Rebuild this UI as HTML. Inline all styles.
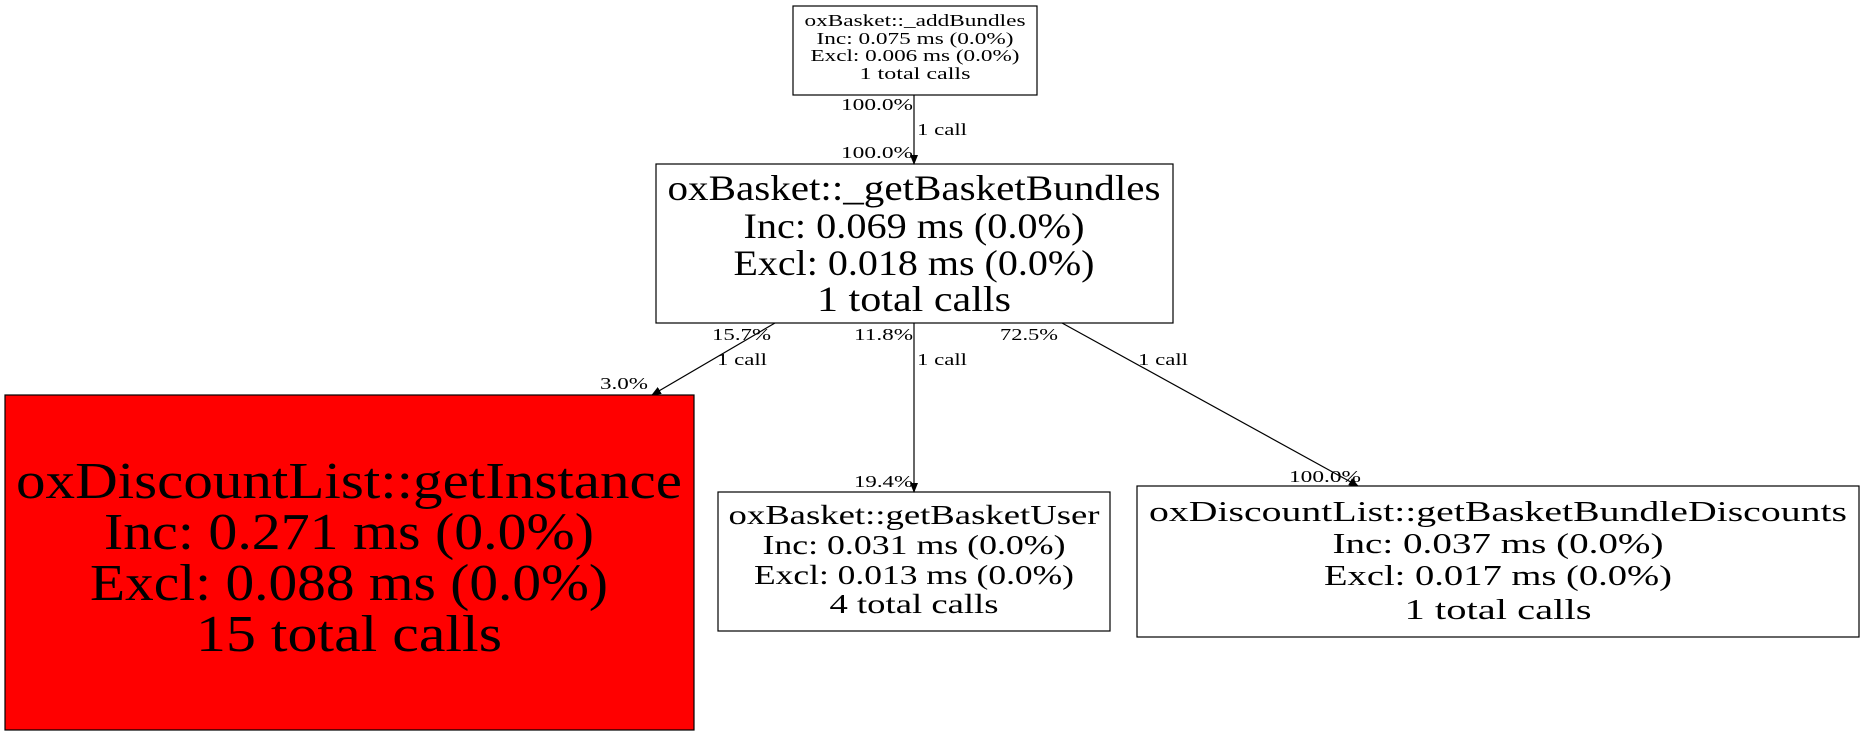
<!DOCTYPE html>
<html><head><meta charset="utf-8"><style>html,body{margin:0;padding:0;background:#fff}svg{display:block}text{font-family:"Liberation Serif",serif;fill:#000}</style></head>
<body>
<svg width="1864" height="736" viewBox="0 0 1864 736" xmlns="http://www.w3.org/2000/svg">
<defs><marker id="a" markerWidth="10" markerHeight="8" refX="9" refY="4" orient="auto" markerUnits="userSpaceOnUse"><path d="M0,0 L10,4 L0,8 z" fill="#000"/></marker></defs>
<g fill="none" stroke="#000" stroke-width="1.2">
<rect x="793" y="6" width="244" height="89" fill="#fff"/>
<rect x="656" y="164" width="517" height="159" fill="#fff"/>
<rect x="5" y="395" width="689" height="335" fill="#f00"/>
<rect x="718" y="492" width="392" height="139" fill="#fff"/>
<rect x="1137" y="486" width="722" height="151" fill="#fff"/>
<line x1="914" y1="95" x2="914" y2="164" marker-end="url(#a)"/>
<line x1="775" y1="323" x2="652" y2="395" marker-end="url(#a)"/>
<line x1="914" y1="323" x2="914" y2="492" marker-end="url(#a)"/>
<line x1="1062" y1="323" x2="1358" y2="486" marker-end="url(#a)"/>
</g>
<g text-anchor="middle">
<g font-size="17"><text x="915" y="26" textLength="221" lengthAdjust="spacingAndGlyphs">oxBasket::_addBundles</text><text x="915" y="44" textLength="197" lengthAdjust="spacingAndGlyphs">Inc: 0.075 ms (0.0%)</text><text x="915" y="61" textLength="209" lengthAdjust="spacingAndGlyphs">Excl: 0.006 ms (0.0%)</text><text x="915" y="79" textLength="111" lengthAdjust="spacingAndGlyphs">1 total calls</text></g>
<g font-size="36"><text x="914" y="200" textLength="493" lengthAdjust="spacingAndGlyphs">oxBasket::_getBasketBundles</text><text x="914" y="238" textLength="341" lengthAdjust="spacingAndGlyphs">Inc: 0.069 ms (0.0%)</text><text x="914" y="275" textLength="361" lengthAdjust="spacingAndGlyphs">Excl: 0.018 ms (0.0%)</text><text x="914" y="311" textLength="194" lengthAdjust="spacingAndGlyphs">1 total calls</text></g>
<g font-size="52"><text x="349" y="498" textLength="666" lengthAdjust="spacingAndGlyphs">oxDiscountList::getInstance</text><text x="349" y="549" textLength="490" lengthAdjust="spacingAndGlyphs">Inc: 0.271 ms (0.0%)</text><text x="349" y="600" textLength="518" lengthAdjust="spacingAndGlyphs">Excl: 0.088 ms (0.0%)</text><text x="349" y="651" textLength="306" lengthAdjust="spacingAndGlyphs">15 total calls</text></g>
<g font-size="27"><text x="914" y="524" textLength="371" lengthAdjust="spacingAndGlyphs">oxBasket::getBasketUser</text><text x="914" y="554" textLength="303" lengthAdjust="spacingAndGlyphs">Inc: 0.031 ms (0.0%)</text><text x="914" y="584" textLength="320" lengthAdjust="spacingAndGlyphs">Excl: 0.013 ms (0.0%)</text><text x="914" y="613" textLength="169" lengthAdjust="spacingAndGlyphs">4 total calls</text></g>
<g font-size="29"><text x="1498" y="521" textLength="698" lengthAdjust="spacingAndGlyphs">oxDiscountList::getBasketBundleDiscounts</text><text x="1498" y="553" textLength="331" lengthAdjust="spacingAndGlyphs">Inc: 0.037 ms (0.0%)</text><text x="1498" y="585" textLength="348" lengthAdjust="spacingAndGlyphs">Excl: 0.017 ms (0.0%)</text><text x="1498" y="619" textLength="187" lengthAdjust="spacingAndGlyphs">1 total calls</text></g>
</g>
<g font-size="17">
<text x="841" y="110" textLength="72" lengthAdjust="spacingAndGlyphs">100.0%</text>
<text x="917" y="135" textLength="50" lengthAdjust="spacingAndGlyphs">1 call</text>
<text x="841" y="158" textLength="72" lengthAdjust="spacingAndGlyphs">100.0%</text>
<text x="712" y="340" textLength="59" lengthAdjust="spacingAndGlyphs">15.7%</text>
<text x="717" y="365" textLength="50" lengthAdjust="spacingAndGlyphs">1 call</text>
<text x="600" y="389" textLength="48" lengthAdjust="spacingAndGlyphs">3.0%</text>
<text x="854" y="340" textLength="59" lengthAdjust="spacingAndGlyphs">11.8%</text>
<text x="917" y="365" textLength="50" lengthAdjust="spacingAndGlyphs">1 call</text>
<text x="1000" y="340" textLength="58" lengthAdjust="spacingAndGlyphs">72.5%</text>
<text x="1138" y="365" textLength="50" lengthAdjust="spacingAndGlyphs">1 call</text>
<text x="854" y="487" textLength="59" lengthAdjust="spacingAndGlyphs">19.4%</text>
<text x="1289" y="482" textLength="72" lengthAdjust="spacingAndGlyphs">100.0%</text>
</g>
</svg>
</body></html>
